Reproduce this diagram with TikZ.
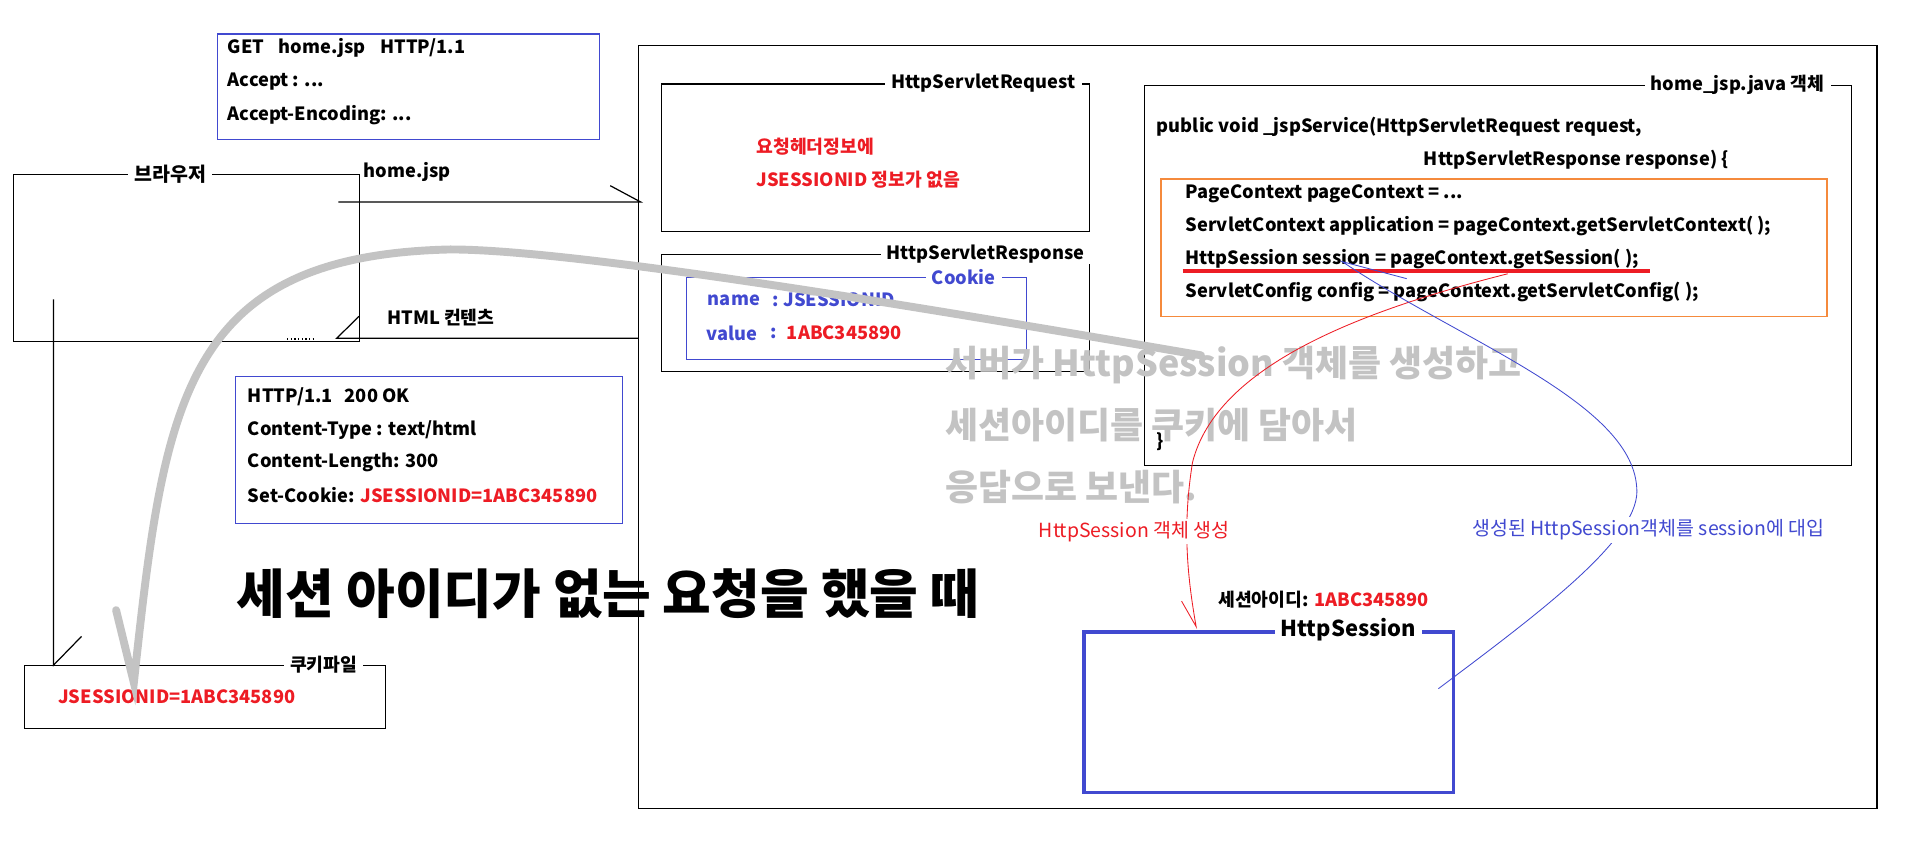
\documentclass[tikz,border=0pt]{standalone}
\usepackage{fontspec}
\setmainfont{Noto Sans CJK KR}
\usepackage{tikz}
\usetikzlibrary{positioning, calc}
\usepackage{xcolor}
\definecolor{hdr-blue}{HTML}{4149D0}
\definecolor{key-red}{HTML}{ED1C24}
\definecolor{code-orange}{HTML}{F58A3C}
\definecolor{note-gray}{HTML}{C3C3C3}
\newcommand{\fsz}[1]{\fontsize{#1}{#1}\selectfont}

\tikzset{
  frame/.style={draw=black, line width=1pt, anchor=north west, inner sep=0pt},
  bframe/.style={frame, draw=hdr-blue},
  ttl/.style={fill=white, inner xsep=5pt, inner ysep=1pt, font=\fsz{15}\bfseries},
  txt/.style={anchor=west, inner sep=0pt, font=\fsz{15}\bfseries},
  lbl/.style={fill=white, inner sep=2pt, font=\fsz{16}},
  link/.style={line width=1pt},
}

\begin{document}
\begin{tikzpicture}[x=1pt, y=-1pt]
    \useasboundingbox (0,0) rectangle (1568,695);
    % ── Client side: request header, browser, response header, cookie file
    \node[bframe, minimum width=314, minimum height=87] (reqhead) at (178,27.4) {};
    \node[txt] (get) at (187,39.3) {GET\hspace{12pt}home.jsp\hspace{12pt}HTTP/1.1};
    \node[txt] (accept) at (187,67.1) {Accept : ...};
    \node[txt] (acceptenc) at (187,94.5) {Accept-Encoding: ...};

    \node[frame, minimum width=284.6, minimum height=137] (browser) at (10.4,143.2) {};
    \node[ttl, font=\fsz{16}\bfseries] (browsertitle) at (140,143.2) {브라우저};
    \node[txt] (homejsp) at (298.6,141.1) {home.jsp};
    \node[txt] (htmlbody) at (318,260.8) {HTML 컨텐츠};

    \node[bframe, minimum width=318, minimum height=121] (reshead) at (193,309) {};
    \node[txt] (status) at (203.6,325.7) {HTTP/1.1\hspace{10pt}200 OK};
    \node[txt] (ctype) at (203.6,353.4) {Content-Type : text/html};
    \node[txt] (clen) at (203.6,379.6) {Content-Length: 300};
    \node[txt] (setcookie) at (203.6,406.9) {Set-Cookie: \textcolor{key-red}{JSESSIONID=1ABC345890}};

    \node[frame, minimum width=296.5, minimum height=51.4] (cookiefile) at (19.5,546.6) {};
    \node[ttl] (cookiefiletitle) at (266,546.6) {쿠키파일};
    \node[txt, text=key-red] (storedid) at (47.7,572.5) {JSESSIONID=1ABC345890};

    \node[txt, font=\fsz{43.5}\bfseries] (headline) at (194.5,488) {세션 아이디가 없는 요청을 했을 때};

    % ── Server side
    \node[frame, minimum width=1017.5, minimum height=627] (server) at (524.5,37) {};

    \node[frame, minimum width=352, minimum height=121.5] (sreq) at (543,68.5) {};
    \node[ttl] (sreqtitle) at (808,68.5) {HttpServletRequest};
    \node[txt, text=key-red] (noid1) at (621.5,120.5) {요청헤더정보에};
    \node[txt, text=key-red] (noid2) at (621.5,148) {JSESSIONID 정보가 없음};

    \node[frame, minimum width=352, minimum height=96.4] (sres) at (543,208.6) {};
    \node[ttl] (srestitle) at (810,208.6) {HttpServletResponse};
    \node[bframe, minimum width=279.5, minimum height=67.3] (cookie) at (563.5,227.7) {};
    \node[ttl, text=hdr-blue] (cookietitle) at (792,227.7) {Cookie};
    \node[txt, text=hdr-blue] (cname) at (581.6,246.5) {name};
    \node[txt, text=hdr-blue] (cnameval) at (635,246.5) {:\ JSESSIONID};
    \node[txt, text=hdr-blue] (cvalue) at (580.8,273.8) {value};
    \node[txt, text=hdr-blue] (ccolon) at (632.8,273.8) {:};
    \node[txt, text=key-red] (cvalueval) at (646.5,273.8) {1ABC345890};

    \node[frame, minimum width=581, minimum height=312] (jspobj) at (940,70) {};
    \node[ttl] (jspobjtitle) at (1428,70) {home\_jsp.java 객체};
    \node[txt] (sig1) at (950.6,104) {public void \_jspService(HttpServletRequest request,};
    \node[txt] (sig2) at (1170,131.5) {HttpServletResponse response) \{};
    \node[frame, draw=code-orange, minimum width=547.4, minimum height=112.8] (codebox) at (953.6,146.6) {};
    \node[txt] (code1) at (974.3,158.9) {PageContext pageContext = ...};
    \node[txt] (code2) at (974.3,185.5) {ServletContext application = pageContext.getServletContext( );};
    \node[txt] (code3) at (974.3,212.9) {HttpSession session = pageContext.getSession( );};
    \node[txt] (code4) at (974.3,239.7) {ServletConfig config = pageContext.getServletConfig( );};
    \draw[key-red, line width=3pt] (971.8,222.7) -- (1355.9,222.7);
    \node[txt] (closebrace) at (950.6,363) {\}};

    \node[frame, draw=hdr-blue, line width=3pt, minimum width=303.5, minimum height=132] (session) at (889.5,517.8) {};
    \node[ttl, font=\fsz{18}\bfseries] (sessiontitle) at (1108,517.8) {HttpSession};
    \node[txt] (sessid) at (1001,493) {세션아이디: \textcolor{key-red}{1ABC345890}};

    % ── request / response / cookie store
    \coordinate (reqout) at (278,166);
    \coordinate (reqin) at (526.5,166);
    \coordinate (resout) at (525,278);
    \coordinate (resin) at (276.7,278);
    \coordinate (storeout) at (44,246);
    \coordinate (storein) at (44,546.6);
    \draw[link] (reqout) -- (reqin) -- ++(-25,-13.4);
    \draw[link] (resout) -- (resin) -- ++(18.3,-18);
    \draw[link, dotted] (236,278.6) -- (260,278.6);
    \draw[link] (storeout) -- (storein) -- ++(23,-23.6);

    % ── gray note
    \foreach \ln/\yy in {{서버가 HttpSession 객체를 생성하고}/300,
                         {세션아이디를 쿠키에 담아서}/349.3,
                         {응답으로 보낸다.}/400}
      \node[txt, text=note-gray, font=\fsz{29.5}\bfseries] at (776.6,\yy) {\ln};

    \coordinate (sendfrom) at (987,292);
    \coordinate (cookiein) at (110,561);
    \draw[note-gray, line width=6.5pt, line cap=round]
      (sendfrom) .. controls (800,260) and (480,205) .. (370,205)
                 .. controls (150,210) and (135,330) .. (cookiein)
      -- ++(-14.6,-59.6);

    % ── session creation and assignment
    \coordinate (getsess) at (1239,225);
    \coordinate (sesstop) at (983,515);
    \draw[key-red, line width=0.7pt]
      (getsess) .. controls (1120,255) and (1000,300) .. (980,380)
                .. controls (972,430) and (975,470) .. (sesstop) -- ++(-12,-21);
    \coordinate (sessright) at (1182,566);
    \coordinate (sessvar) at (1103,215);
    \draw[hdr-blue, line width=0.7pt]
      (sessright) .. controls (1270,500) and (1350,440) .. (1345,400)
                  .. controls (1340,330) and (1200,280) .. (sessvar) -- ++(53,14);
    \node[lbl, text=key-red] (createlbl) at (932,437) {HttpSession 객체 생성};
    \node[lbl, text=hdr-blue] (assignlbl) at (1354.6,435.6) {생성된 HttpSession객체를 session에 대입};
\end{tikzpicture}
\end{document}
